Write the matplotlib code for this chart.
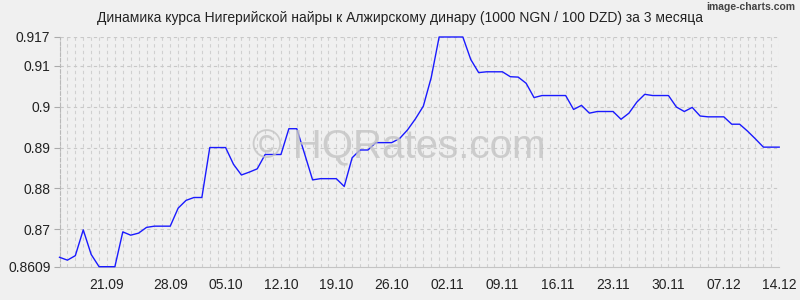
import matplotlib
matplotlib.use('Agg')
import matplotlib.pyplot as plt
import numpy as np

# Data
rate = [0.8632, 0.8625, 0.8636, 0.8699, 0.8639, 0.8609, 0.8609, 0.8609,
        0.8694, 0.8686, 0.8691, 0.8705, 0.8708, 0.8708, 0.8708, 0.8752,
        0.8771, 0.8778, 0.8778, 0.8900, 0.8900, 0.8900, 0.8859, 0.8833,
        0.8840, 0.8848, 0.8883, 0.8883, 0.8883, 0.8946, 0.8946, 0.8884,
        0.8821, 0.8824, 0.8824, 0.8824, 0.8805, 0.8875, 0.8894, 0.8894,
        0.8912, 0.8912, 0.8912, 0.8922, 0.8943, 0.8970, 0.9001, 0.9071,
        0.9170, 0.9170, 0.9170, 0.9170, 0.9115, 0.9083, 0.9085, 0.9085,
        0.9085, 0.9073, 0.9072, 0.9057, 0.9022, 0.9027, 0.9027, 0.9027,
        0.9027, 0.8993, 0.9003, 0.8984, 0.8988, 0.8988, 0.8988, 0.8969,
        0.8984, 0.9011, 0.9030, 0.9027, 0.9027, 0.9027, 0.8999, 0.8988,
        0.8998, 0.8977, 0.8975, 0.8975, 0.8975, 0.8957, 0.8957, 0.8940,
        0.8921, 0.8901, 0.8901, 0.8901]
date_ticks = [6, 14, 21, 28, 35, 42, 49, 56, 63, 70, 77, 84, 91]
date_labels = ['21.09', '28.09', '05.10', '12.10', '19.10', '26.10', '02.11',
               '09.11', '16.11', '23.11', '30.11', '07.12', '14.12']
y_ticks = [0.8609, 0.87, 0.88, 0.89, 0.9, 0.91, 0.917]
y_labels = ['0.8609', '0.87', '0.88', '0.89', '0.9', '0.91', '0.917']

title = 'Динамика курса Нигерийской найры к Алжирскому динару (1000 NGN / 100 DZD) за 3 месяца'

plt.rcParams['font.family'] = ['Liberation Sans', 'DejaVu Sans']
bg = '#f0f0f0'

fig = plt.figure(figsize=(8, 3), dpi=100, facecolor=bg)
ax = fig.add_axes([0.0744, 0.111, 0.8996, 0.7657])
ax.set_facecolor(bg)

x = np.arange(len(rate))

# day grid (vertical) and value grid (horizontal)
for xi in x:
    ax.axvline(xi, color='#d0d0d0', lw=0.8, ls=(0, (3, 3)), zorder=1)
for yt in y_ticks[1:]:
    ax.axhline(yt, color='#c8c8c8', lw=0.8, ls=(0, (3, 3)), zorder=1)

ax.plot(x, rate, color='#1a1aff', lw=1.0, zorder=3, clip_on=False)

ax.set_xlim(0, len(rate) - 1)
ax.set_ylim(y_ticks[0], y_ticks[-1])

ax.set_xticks(date_ticks)
ax.set_xticklabels(date_labels)
ax.set_yticks(y_ticks)
ax.set_yticklabels(y_labels)
ax.tick_params(axis='x', length=0, pad=8, labelsize=10, labelcolor='#222222')
ax.tick_params(axis='y', length=4.5, width=0.8, color='#aaaaaa', pad=2,
               labelsize=10, labelcolor='#222222')

for s in ['top', 'right']:
    ax.spines[s].set_visible(False)
ax.spines['left'].set_color('#b8b8b8')
ax.spines['left'].set_linestyle((0, (3, 2)))
ax.spines['left'].set_linewidth(0.8)
ax.spines['bottom'].set_color('#c4c4c4')
ax.spines['bottom'].set_linewidth(0.8)

fig.text(0.5, 0.94, title, ha='center', va='center', fontsize=10, color='#222222')
fig.text(0.994, 0.977, 'image-charts.com', ha='right', va='center',
         fontsize=7.5, color='#444444', fontweight='bold',
         fontstretch='condensed')
fig.text(0.499, 0.51, '© HQRates.com', ha='center', va='center',
         fontsize=29, color='#c4c4c4', alpha=0.8, zorder=2)

fig.savefig('out.png', dpi=100, facecolor=bg)
